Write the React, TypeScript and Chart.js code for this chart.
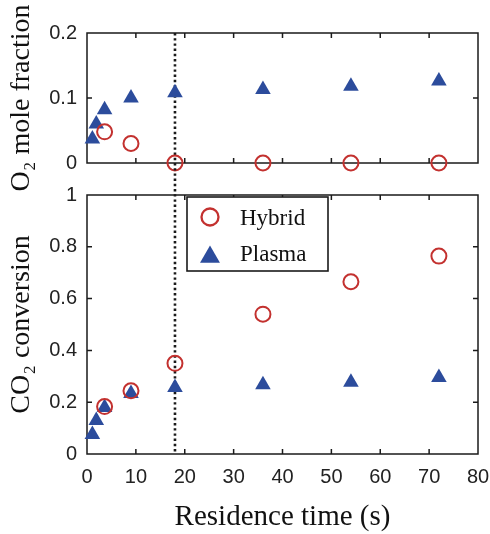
import React, { useEffect, useRef } from "react";
import { Chart, registerables } from "chart.js";

Chart.register(...registerables);

// ---- data ----
const xTicks = [0, 10, 20, 30, 40, 50, 60, 70, 80];
const o2Ticks = [0, 0.1, 0.2];
const convTicks = [0, 0.2, 0.4, 0.6, 0.8, 1];

const seriesNames = ["Hybrid", "Plasma"];
const plasmaTime = [1.1, 1.9, 3.6, 9, 18, 36, 54, 72];
const hybridTime = [3.6, 9, 18, 36, 54, 72];

const o2Plasma = [0.037, 0.06, 0.082, 0.1, 0.108, 0.113, 0.118, 0.126];
const o2Hybrid = [0.048, 0.03, 0, 0, 0, 0];

const convPlasma = [0.075, 0.129, 0.18, 0.234, 0.257, 0.267, 0.277, 0.295];
const convHybrid = [0.183, 0.244, 0.35, 0.54, 0.665, 0.764];

const markerTime = 18;

const xLabel = "Residence time (s)";
const o2Label = "O\u2082 mole fraction";
const convLabel = "CO\u2082 conversion";

// ---- styles ----
const RED = "#c3312f";
const BLUE = "#2c4c9c";
const INK = "#1a1a1a";
const SANS = "'Liberation Sans', Arial, sans-serif";
const SERIF = "'Liberation Serif', 'Times New Roman', serif";

const W = 490;
const H = 534;

const toPts = (xs: number[], ys: number[]) => xs.map((x, i) => ({ x, y: ys[i] }));

const fmt = (v: any) => String(+Number(v).toFixed(2));

const hybridStyle = {
  pointStyle: "circle",
  pointRadius: 7.5,
  pointBorderWidth: 2,
  pointBorderColor: RED,
  pointBackgroundColor: "rgba(0,0,0,0)",
  showLine: false,
  clip: false as any,
};
const plasmaStyle = {
  pointStyle: "triangle",
  pointRadius: 9,
  pointBorderWidth: 0,
  pointBorderColor: BLUE,
  pointBackgroundColor: BLUE,
  showLine: false,
  clip: false as any,
};

const framePlugin = {
  id: "frame",
  beforeDatasetsDraw(chart: any) {
    const { ctx, chartArea: a, scales } = chart;
    const xs = scales.x;
    const ys = scales.y;
    const yt: number[] = chart.options.plugins.frame.yTicks;
    const tl = 5;
    ctx.save();
    ctx.strokeStyle = INK;
    ctx.lineWidth = 1.5;
    ctx.strokeRect(a.left, a.top, a.right - a.left, a.bottom - a.top);
    ctx.beginPath();
    xTicks.slice(1, -1).forEach((v) => {
      const px = xs.getPixelForValue(v);
      ctx.moveTo(px, a.bottom);
      ctx.lineTo(px, a.bottom - tl);
      ctx.moveTo(px, a.top);
      ctx.lineTo(px, a.top + tl);
    });
    yt.slice(1, -1).forEach((v) => {
      const py = ys.getPixelForValue(v);
      ctx.moveTo(a.left, py);
      ctx.lineTo(a.left + tl, py);
      ctx.moveTo(a.right, py);
      ctx.lineTo(a.right - tl, py);
    });
    ctx.stroke();
    ctx.restore();
  },
};

const dottedPlugin = {
  id: "dotted",
  beforeDatasetsDraw(chart: any) {
    const o = chart.options.plugins.dotted;
    if (!o || !o.enabled) return;
    const { ctx, chartArea: a, scales } = chart;
    const px = scales.x.getPixelForValue(markerTime);
    const top = typeof o.lineTop === "number" ? o.lineTop : a.top;
    const bottom = a.bottom;
    ctx.save();
    ctx.strokeStyle = INK;
    ctx.lineWidth = 2.6;
    ctx.setLineDash([2.4, 2.8]);
    ctx.beginPath();
    ctx.moveTo(px, top);
    ctx.lineTo(px, bottom);
    ctx.stroke();
    ctx.restore();
  },
};

const legendPlugin = {
  id: "boxLegend",
  afterDatasetsDraw(chart: any) {
    const o = chart.options.plugins.boxLegend;
    if (!o || !o.enabled) return;
    const { ctx, chartArea: a } = chart;
    const left = a.left + 100;
    const top = a.top + 2;
    const w = 141;
    const h = 74;
    ctx.save();
    ctx.fillStyle = "#fff";
    ctx.fillRect(left, top, w, h);
    ctx.strokeStyle = INK;
    ctx.lineWidth = 1.6;
    ctx.strokeRect(left, top, w, h);
    ctx.beginPath();
    ctx.arc(left + 23, top + 20, 8.5, 0, Math.PI * 2);
    ctx.strokeStyle = RED;
    ctx.lineWidth = 2.3;
    ctx.stroke();
    const cx = left + 23;
    const cy = top + 60;
    const r = 11.5;
    ctx.beginPath();
    ctx.moveTo(cx, cy - r);
    ctx.lineTo(cx + r * Math.sin((2 * Math.PI) / 3), cy + r * 0.5);
    ctx.lineTo(cx - r * Math.sin((2 * Math.PI) / 3), cy + r * 0.5);
    ctx.closePath();
    ctx.fillStyle = BLUE;
    ctx.fill();
    ctx.fillStyle = "#111";
    ctx.font = `23px ${SERIF}`;
    ctx.textAlign = "left";
    ctx.textBaseline = "alphabetic";
    ctx.fillText(seriesNames[0], left + 53, top + 27.5);
    ctx.fillText(seriesNames[1], left + 53, top + 64);
    ctx.restore();
  },
};

const fixY = (s: any) => {
  s.width = 87;
  s.paddingTop = 0;
  s.paddingBottom = 0;
};

export default function App() {
  const topRef = useRef<HTMLCanvasElement>(null);
  const botRef = useRef<HTMLCanvasElement>(null);

  useEffect(() => {
    const tickFont = { family: SANS, size: 20 };
    const titleFont = { family: SERIF, size: 28, lineHeight: 1 };
    const xTitleFont = { family: SERIF, size: 29, lineHeight: 1 };

    const topChart = new Chart(topRef.current as HTMLCanvasElement, {
      type: "scatter",
      data: {
        datasets: [
          { label: seriesNames[0], data: toPts(hybridTime, o2Hybrid), ...hybridStyle } as any,
          { label: seriesNames[1], data: toPts(plasmaTime, o2Plasma), ...plasmaStyle } as any,
        ],
      },
      options: {
        responsive: false,
        animation: false,
        layout: { padding: { left: 0, right: 12, top: 33, bottom: H - 163 } },
        plugins: {
          legend: { display: false },
          tooltip: { enabled: false },
          frame: { yTicks: o2Ticks },
          dotted: { enabled: true },
        } as any,
        scales: {
          x: { type: "linear", min: 0, max: 80, display: false },
          y: {
            type: "linear",
            min: 0,
            max: 0.2,
            afterBuildTicks: (s: any) => {
              s.ticks = o2Ticks.map((v) => ({ value: v }));
            },
            afterFit: fixY,
            grid: { display: false, drawTicks: false },
            border: { display: false },
            ticks: { font: tickFont, color: "#222", padding: 10, callback: fmt },
            title: { display: true, text: o2Label, font: titleFont, color: "#111", padding: { top: 8, bottom: 0 } },
          },
        },
      } as any,
      plugins: [framePlugin, dottedPlugin],
    });

    const lineTop = topChart.chartArea ? topChart.chartArea.bottom : 163;

    const botChart = new Chart(botRef.current as HTMLCanvasElement, {
      type: "scatter",
      data: {
        datasets: [
          { label: seriesNames[0], data: toPts(hybridTime, convHybrid), ...hybridStyle } as any,
          { label: seriesNames[1], data: toPts(plasmaTime, convPlasma), ...plasmaStyle } as any,
        ],
      },
      options: {
        responsive: false,
        animation: false,
        layout: { padding: { left: 0, right: 12, top: 195, bottom: 0 } },
        plugins: {
          legend: { display: false },
          tooltip: { enabled: false },
          frame: { yTicks: convTicks },
          dotted: { enabled: true, lineTop },
          boxLegend: { enabled: true },
        } as any,
        scales: {
          x: {
            type: "linear",
            min: 0,
            max: 80,
            afterBuildTicks: (s: any) => {
              s.ticks = xTicks.map((v) => ({ value: v }));
            },
            afterFit: (s: any) => {
              s.height = H - 454;
              s.paddingLeft = 0;
              s.paddingRight = 0;
            },
            grid: { display: false, drawTicks: false },
            border: { display: false },
            ticks: { font: tickFont, color: "#222", padding: 11, maxRotation: 0, autoSkip: false, callback: fmt },
            title: { display: true, text: xLabel, font: xTitleFont, color: "#111", padding: { top: 0, bottom: 2 } },
          },
          y: {
            type: "linear",
            min: 0,
            max: 1,
            afterBuildTicks: (s: any) => {
              s.ticks = convTicks.map((v) => ({ value: v }));
            },
            afterFit: fixY,
            grid: { display: false, drawTicks: false },
            border: { display: false },
            ticks: { font: tickFont, color: "#222", padding: 10, callback: fmt },
            title: { display: true, text: convLabel, font: titleFont, color: "#111", padding: { top: 8, bottom: 0 } },
          },
        },
      } as any,
      plugins: [framePlugin, dottedPlugin, legendPlugin],
    });

    return () => {
      topChart.destroy();
      botChart.destroy();
    };
  }, []);

  return (
    <div style={{ position: "absolute", left: 0, top: 0, width: W, height: H, background: "#fff" }}>
      <canvas ref={topRef} width={W} height={H} style={{ position: "absolute", left: 0, top: 0 }} />
      <canvas ref={botRef} width={W} height={H} style={{ position: "absolute", left: 0, top: 0 }} />
    </div>
  );
}
